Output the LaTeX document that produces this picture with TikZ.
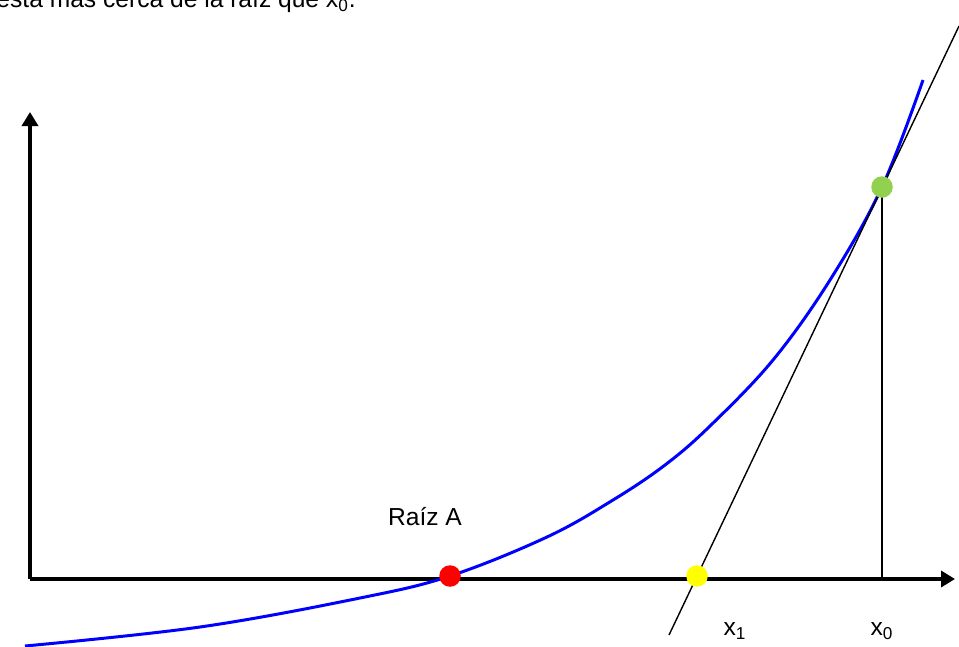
\documentclass[tikz,border=0pt]{standalone}
\usepackage{fontspec}
\setmainfont{Liberation Sans}
\usepackage{tikz}
\usetikzlibrary{arrows.meta, positioning, calc}
\usepackage{xcolor}
\definecolor{curveblue}{RGB}{0,0,255}
\definecolor{rootred}{RGB}{255,0,0}
\definecolor{newtonyellow}{RGB}{255,255,0}
\definecolor{startgreen}{RGB}{146,208,80}

\begin{document}
\begin{tikzpicture}[
    axis/.style={line width=2.2pt, -{Triangle[length=0.28cm, width=0.32cm]}},
    dot/.style={circle, inner sep=0pt, minimum size=0.43cm},
    thinline/.style={line width=0.8pt},
    lbl/.style={font=\fontsize{14}{16}\selectfont}
  ]
  \useasboundingbox (0,0) rectangle (19.18,12.92);

  % Caption cut at the top
  \node[lbl, anchor=base east, inner sep=0pt] (cap) at (7.12,12.76) {está más cerca de la raíz que x\textsubscript{0}.};

  % Axes
  \coordinate (origin) at (0.6,1.34);
  \coordinate (xend) at (19.1,1.34);
  \coordinate (yend) at (0.6,10.68);
  \draw[axis] (origin) -- (xend);
  \draw[axis] (origin) -- (yend);

  % Function
  \draw[curveblue, line width=1.7pt, smooth, tension=0.6] plot coordinates {(0.5,0) (4.0,0.38) (7.2,0.96) (9.0,1.4) (10.94,2.18) (12.26,2.92) (13.3,3.62) (14.2,4.4) (15.46,5.72) (16.6,7.32) (17.64,9.18) (18.46,11.32)};

  % Tangent at x0 and its foot
  \coordinate (tlow) at (13.38,0.22);
  \coordinate (thigh) at (19.18,12.4);
  \coordinate (x0foot) at (17.64,1.34);
  \draw[thinline] (tlow) -- (thigh);
  \draw[thinline] (17.64,9.18) -- (x0foot);

  % Points
  \node[dot, fill=rootred] (raiz) at (9.0,1.4) {};
  \node[dot, fill=newtonyellow] (xone) at (13.94,1.4) {};
  \node[dot, fill=startgreen] (xzero) at (17.64,9.18) {};

  % Labels
  \node[lbl] (raizlbl) at (8.5,2.58) {Raíz A};
  \node[lbl] (xonelbl) at (14.7,0.3) {x\textsubscript{1}};
  \node[lbl] (xzerolbl) at (17.64,0.3) {x\textsubscript{0}};
\end{tikzpicture}
\end{document}
